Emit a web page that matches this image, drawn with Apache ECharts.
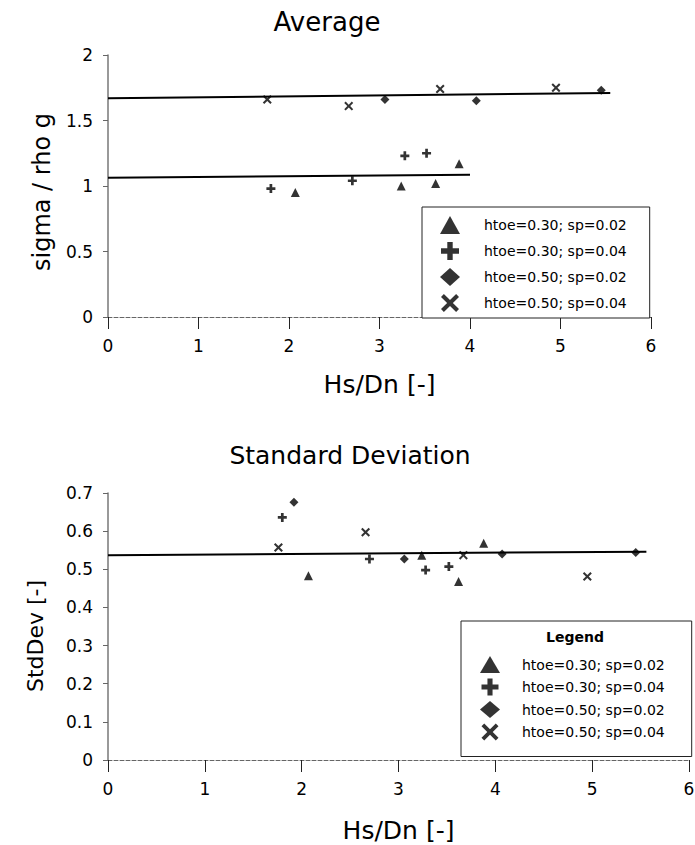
<!DOCTYPE html>
<html>
<head>
<meta charset="utf-8">
<script src="https://cdn.jsdelivr.net/npm/echarts@6.0.0/dist/echarts.min.js"></script>
<style>
html,body{margin:0;padding:0;background:#fff;}
#c{width:695px;height:845px;}
</style>
</head>
<body>
<div id="c"></div>
<script>
// ---- data ----
const seriesNames = ['htoe=0.30; sp=0.02', 'htoe=0.30; sp=0.04', 'htoe=0.50; sp=0.02', 'htoe=0.50; sp=0.04'];
const xTicks = [0, 1, 2, 3, 4, 5, 6];

// htoe=0.30; sp=0.02 (triangles)
const triX   = [2.07, 3.24, 3.62, 3.88];
const triAvg = [0.95, 1.00, 1.02, 1.17];
const triStd = [0.483, 0.537, 0.468, 0.568];
// htoe=0.30; sp=0.04 (plus)
const plusX   = [1.80, 2.70, 3.28, 3.52];
const plusAvg = [0.98, 1.04, 1.23, 1.25];
const plusStd = [0.636, 0.527, 0.498, 0.507];
// htoe=0.50; sp=0.02 (diamonds)
const diaX   = [1.92, 3.06, 4.07, 5.45];
const diaAvg = [2.01, 1.66, 1.65, 1.73];
const diaStd = [0.676, 0.527, 0.540, 0.544];
// htoe=0.50; sp=0.04 (crosses)
const crossX   = [1.76, 2.66, 3.67, 4.95];
const crossAvg = [1.66, 1.61, 1.74, 1.75];
const crossStd = [0.557, 0.597, 0.537, 0.481];

// fitted (mean) lines
const avgUpperX = [0, 5.55], avgUpperY = [1.67, 1.71];
const avgLowerX = [0, 4.00], avgLowerY = [1.063, 1.085];
const stdLineX  = [0, 5.56], stdLineY  = [0.537, 0.546];

// ---- build ----
const FONT = 'DejaVu Sans';
const zip = (a, b) => a.map((v, i) => [v, b[i]]);
const PLUS = 'path://M0,3.5H3.5V0H6.5V3.5H10V6.5H6.5V10H3.5V6.5H0Z';
const CROSS = 'path://M1.6,0L5,3.4L8.4,0L10,1.6L6.6,5L10,8.4L8.4,10L5,6.6L1.6,10L0,8.4L3.4,5L0,1.6Z';
const icons = ['triangle', PLUS, 'diamond', CROSS];
const sizes = [9, 9, 9, 9];
const avgSets = [zip(triX, triAvg), zip(plusX, plusAvg), zip(diaX, diaAvg), zip(crossX, crossAvg)];
const stdSets = [zip(triX, triStd), zip(plusX, plusStd), zip(diaX, diaStd), zip(crossX, crossStd)];

function xAxisDef(gi, gap) {
  return {
    gridIndex: gi, type: 'value', min: 0, max: 6, interval: 1,
    axisLine: { show: true, onZero: false, lineStyle: { color: '#666', type: 'dashed', width: 1 } },
    axisTick: { show: true, length: 12, lineStyle: { color: '#222', width: 1 } },
    axisLabel: { fontSize: 17, fontFamily: FONT, color: '#000', margin: 20, showMinLabel: true, showMaxLabel: true,
                 formatter: v => String(v) },
    splitLine: { show: false },
    name: 'Hs/Dn [-]', nameLocation: 'middle', nameGap: gap,
    nameTextStyle: { fontSize: 25, fontFamily: FONT, color: '#000' }
  };
}
function yAxisDef(gi, min, max, interval) {
  return {
    gridIndex: gi, type: 'value', min: min, max: max, interval: interval,
    axisLine: { show: true, onZero: false, lineStyle: { color: '#777', width: 1.5 } },
    axisTick: { show: true, length: 5, lineStyle: { color: '#666', width: 1 } },
    axisLabel: { fontSize: 17, fontFamily: FONT, color: '#000', margin: 15, showMinLabel: true, showMaxLabel: true },
    splitLine: { show: false }
  };
}

const series = [];
seriesNames.forEach((n, i) => {
  series.push({ type: 'scatter', name: n, xAxisIndex: 0, yAxisIndex: 0, data: avgSets[i],
    symbol: icons[i], symbolSize: sizes[i], itemStyle: { color: '#000' } });
  series.push({ type: 'scatter', name: n, xAxisIndex: 1, yAxisIndex: 1, data: stdSets[i],
    symbol: icons[i], symbolSize: sizes[i], itemStyle: { color: '#000' } });
});
const lineStyle = { color: '#000', width: 2 };
series.push({ type: 'line', xAxisIndex: 0, yAxisIndex: 0, data: zip(avgUpperX, avgUpperY), symbol: 'none', lineStyle, silent: true, z: 1 });
series.push({ type: 'line', xAxisIndex: 0, yAxisIndex: 0, data: zip(avgLowerX, avgLowerY), symbol: 'none', lineStyle, silent: true, z: 1 });
series.push({ type: 'line', xAxisIndex: 1, yAxisIndex: 1, data: zip(stdLineX, stdLineY), symbol: 'none', lineStyle, silent: true, z: 1 });

const legendData = seriesNames.map((n, i) => ({ name: n, icon: icons[i] }));
const legendCommon = {
  orient: 'vertical', selectedMode: false, data: legendData,
  itemWidth: 20, borderColor: '#222', borderWidth: 1, backgroundColor: '#fff',
  textStyle: { fontSize: 14, fontFamily: FONT, color: '#000', padding: [0, 0, 0, 17] }
};

const option = {
  backgroundColor: '#fff',
  animation: false,
  grid: [
    { left: 108, right: 44, top: 55, height: 262, outerBoundsMode: 'none', containLabel: false },
    { left: 108, right: 6, top: 493, height: 267, outerBoundsMode: 'none', containLabel: false }
  ],
  xAxis: [xAxisDef(0, 55), xAxisDef(1, 58)],
  yAxis: [yAxisDef(0, 0, 2, 0.5), yAxisDef(1, 0, 0.7, 0.1)],
  legend: [
    Object.assign({}, legendCommon, { left: 422, top: 207, padding: [9, 23, 6, 18], itemGap: 8, itemHeight: 18,
      textStyle: Object.assign({}, legendCommon.textStyle, { padding: [0, 0, 0, 19] }) }),
    Object.assign({}, legendCommon, { left: 461, top: 621, padding: [35, 27, 16, 19], itemGap: 5.5, itemHeight: 17 })
  ],
  graphic: [
    { type: 'text', x: 327, y: 22, z: 100,
      style: { text: 'Average', fontSize: 26, fontFamily: FONT, fill: '#000', align: 'center', verticalAlign: 'middle' } },
    { type: 'text', x: 350, y: 455, z: 100,
      style: { text: 'Standard Deviation', fontSize: 25, fontFamily: FONT, fill: '#000', align: 'center', verticalAlign: 'middle' } },
    { type: 'text', x: 575, y: 637, z: 100,
      style: { text: 'Legend', fontSize: 14, fontWeight: 'bold', fontFamily: FONT, fill: '#000', align: 'center', verticalAlign: 'middle' } },
    { type: 'text', x: 42, y: 192, rotation: Math.PI / 2, z: 100,
      style: { text: 'sigma / rho g', fontSize: 24, fontFamily: FONT, fill: '#000', align: 'center', verticalAlign: 'middle' } },
    { type: 'text', x: 35, y: 636, rotation: Math.PI / 2, z: 100,
      style: { text: 'StdDev [-]', fontSize: 22, fontFamily: FONT, fill: '#000', align: 'center', verticalAlign: 'middle' } }
  ],
  series: series
};

const chart = echarts.init(document.getElementById('c'), null, { renderer: 'svg' });
chart.setOption(option);
</script>
</body>
</html>
